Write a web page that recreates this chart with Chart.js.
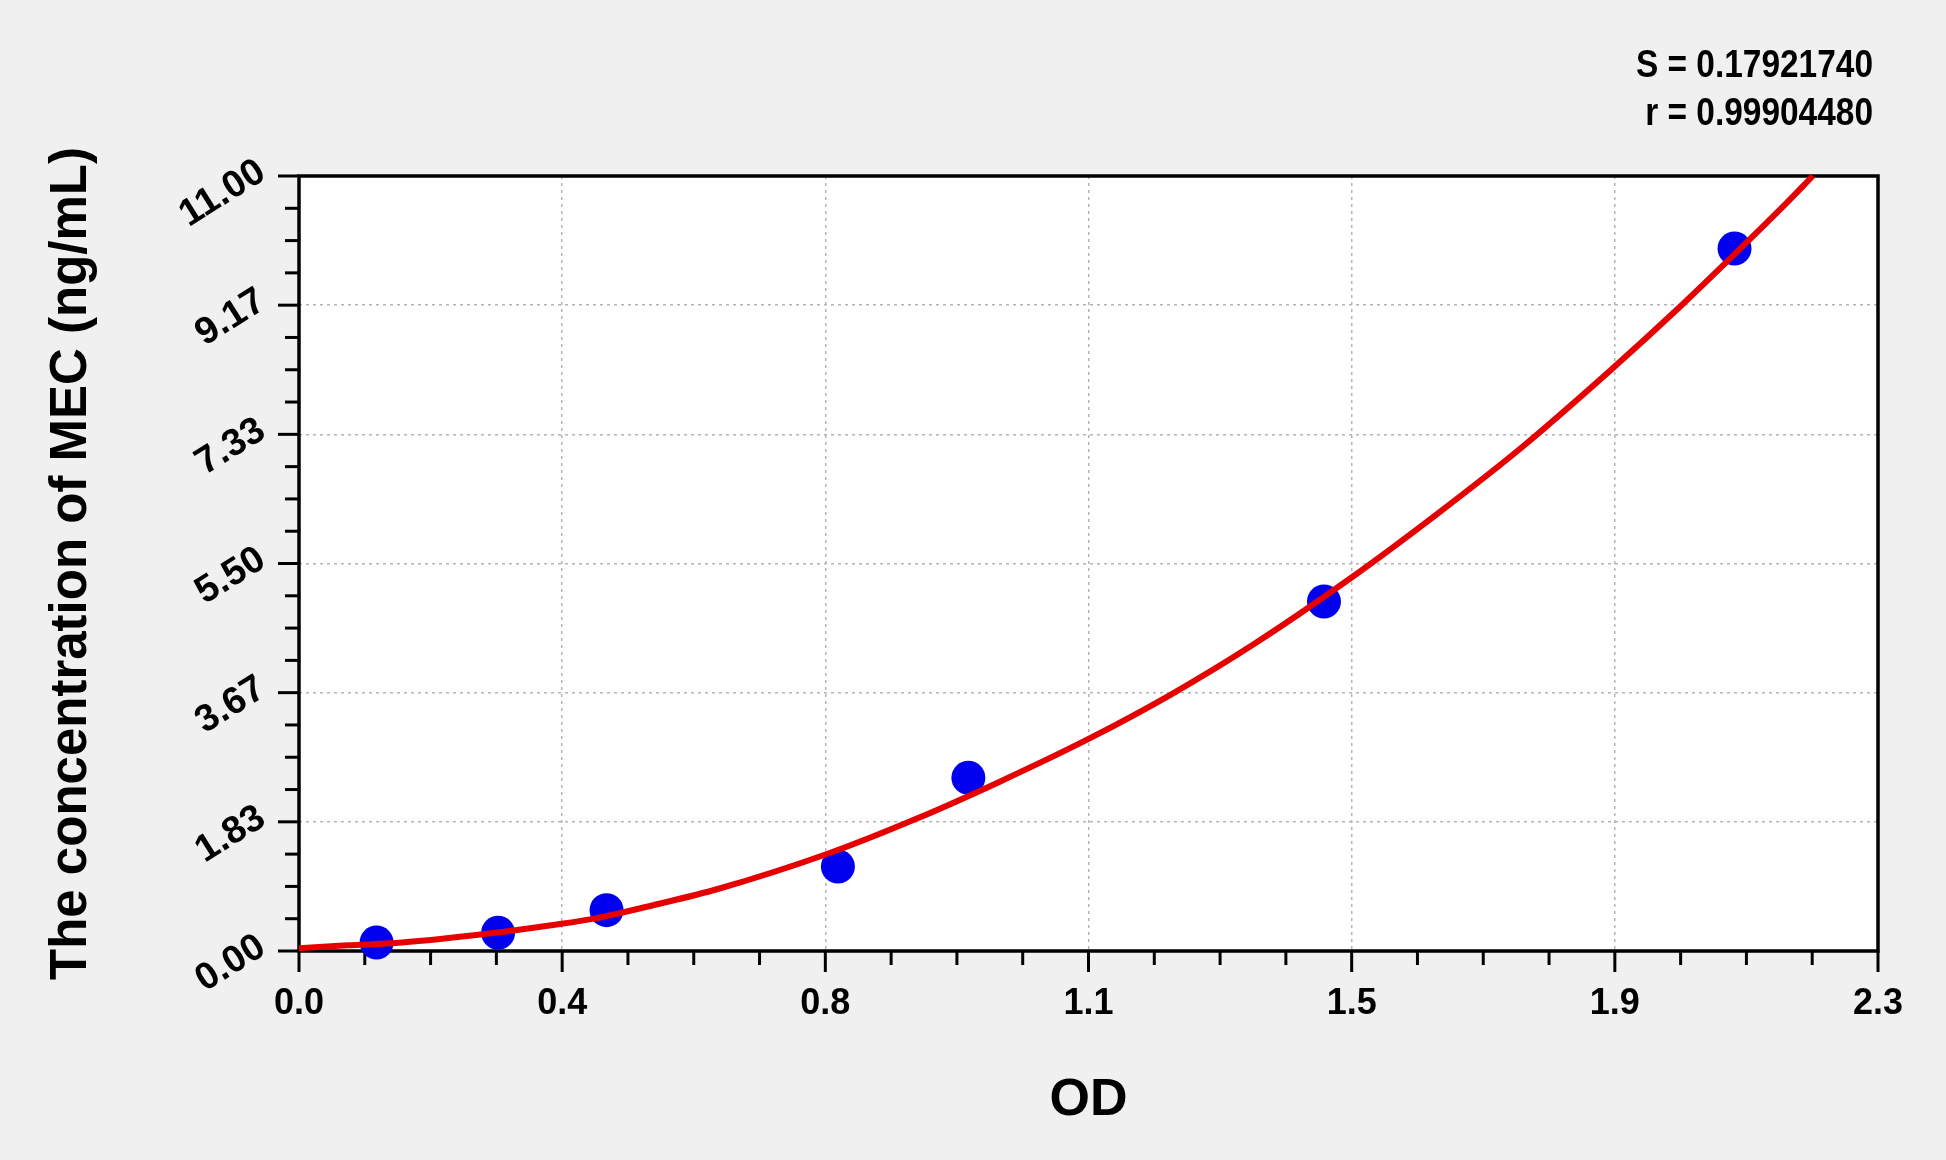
<!DOCTYPE html>
<html>
<head>
<meta charset="utf-8">
<title>MEC standard curve</title>
<script src="https://cdn.jsdelivr.net/npm/chart.js@4.4.1/dist/chart.umd.min.js"></script>
<style>
  html, body { margin: 0; padding: 0; background: #f0f0f0; }
  #wrap { width: 1946px; height: 1160px; }
</style>
</head>
<body>
<div id="wrap"><canvas id="curveChart" width="1946" height="1160"></canvas></div>
<script>
// standards (OD, concentration)
const odValues = [0.113, 0.290, 0.448, 0.785, 0.975, 1.493, 2.091];
const concValues = [0.12, 0.26, 0.58, 1.20, 2.46, 4.96, 9.97];

// fitted curve, sampled by eye along the red line
const fitOd = [0, 0.07, 0.15, 0.27, 0.37, 0.43, 0.52, 0.61, 0.77, 0.90, 1.02, 1.15, 1.27, 1.39, 1.53, 1.66, 1.78, 1.91, 2.01, 2.09, 2.16, 2.205];
const fitConc = [0.04, 0.08, 0.12, 0.24, 0.37, 0.46, 0.66, 0.88, 1.38, 1.88, 2.40, 3.01, 3.64, 4.35, 5.28, 6.22, 7.14, 8.24, 9.13, 9.88, 10.55, 11.00];

const xTickLabels = ['0.0', '0.4', '0.8', '1.1', '1.5', '1.9', '2.3'];
const yTickLabels = ['0.00', '1.83', '3.67', '5.50', '7.33', '9.17', '11.00'];
const statLines = ['S = 0.17921740', 'r = 0.99904480'];

const X_MAX = 2.3;
const Y_MAX = 11;
const FONT = "'Liberation Sans', Arial, sans-serif";

// background, frame, major/minor ticks, rotated y labels, S and r
const framePlugin = {
  id: 'frame',
  beforeDraw(chart) {
    const { ctx, chartArea: a } = chart;
    ctx.save();
    ctx.fillStyle = '#f0f0f0';
    ctx.fillRect(0, 0, chart.width, chart.height);
    ctx.fillStyle = '#ffffff';
    ctx.fillRect(a.left, a.top, a.right - a.left, a.bottom - a.top);
    ctx.restore();
  },
  beforeDatasetsDraw(chart) {
    const { ctx, chartArea: a, scales: { x, y } } = chart;
    ctx.save();
    ctx.strokeStyle = '#000';
    ctx.lineWidth = 3.5;
    ctx.strokeRect(a.left, a.top, a.right - a.left, a.bottom - a.top);

    ctx.lineWidth = 3;
    const steps = (xTickLabels.length - 1) * 4;
    for (let i = 0; i <= steps; i++) {
      const px = x.getPixelForValue(i * X_MAX / steps);
      const len = i % 4 === 0 ? 21 : 14;
      ctx.beginPath();
      ctx.moveTo(px, a.bottom);
      ctx.lineTo(px, a.bottom + len);
      ctx.stroke();
    }
    const ySteps = (yTickLabels.length - 1) * 4;
    for (let i = 0; i <= ySteps; i++) {
      const py = y.getPixelForValue(i * Y_MAX / ySteps);
      const len = i % 4 === 0 ? 21 : 14;
      ctx.beginPath();
      ctx.moveTo(a.left, py);
      ctx.lineTo(a.left - len, py);
      ctx.stroke();
    }

    ctx.fillStyle = '#000';
    ctx.font = 'bold 38px ' + FONT;
    ctx.textAlign = 'right';
    ctx.textBaseline = 'middle';
    yTickLabels.forEach((t, i) => {
      const py = y.getPixelForValue(i * Y_MAX / (yTickLabels.length - 1));
      ctx.save();
      ctx.translate(a.left - 37, py - 7);
      ctx.rotate(-32 * Math.PI / 180);
      ctx.fillText(t, 0, 0);
      ctx.restore();
    });

    ctx.textBaseline = 'alphabetic';
    ctx.font = 'bold 38px ' + FONT;
    statLines.forEach((t, i) => {
      ctx.save();
      ctx.translate(a.right - 5, 77 + i * 48);
      ctx.scale(0.88, 1);
      ctx.fillText(t, 0, 0);
      ctx.restore();
    });
    ctx.restore();
  }
};

new Chart(document.getElementById('curveChart'), {
  type: 'scatter',
  data: {
    datasets: [
      {
        label: 'fit',
        data: fitOd.map((v, i) => ({ x: v, y: fitConc[i] })),
        showLine: true,
        borderColor: '#e60000',
        borderWidth: 6,
        pointRadius: 0,
        cubicInterpolationMode: 'monotone',
        clip: false,
        order: 0
      },
      {
        label: 'standards',
        data: odValues.map((v, i) => ({ x: v, y: concValues[i] })),
        backgroundColor: '#0000ee',
        borderColor: '#0000ee',
        pointRadius: 17,
        pointBorderWidth: 0,
        clip: false,
        order: 1
      }
    ]
  },
  options: {
    responsive: false,
    animation: false,
    devicePixelRatio: 1,
    layout: { padding: { top: 176, right: 68, left: 0, bottom: 0 } },
    plugins: {
      legend: { display: false },
      tooltip: { enabled: false }
    },
    scales: {
      x: {
        type: 'linear',
        min: 0,
        max: X_MAX,
        afterBuildTicks(s) {
          s.ticks = xTickLabels.map((_, i) => ({ value: i * X_MAX / (xTickLabels.length - 1) }));
        },
        afterFit(s) { s.height = 209; },
        grid: { color: '#b4b4b4', lineWidth: 1.5, drawTicks: false },
        border: { display: false, dash: [3, 4] },
        ticks: {
          padding: 31,
          color: '#000',
          font: { size: 36, weight: 'bold', family: FONT },
          callback: (v, i) => xTickLabels[i]
        },
        title: {
          display: true,
          text: 'OD',
          color: '#000',
          font: { size: 52, weight: 'bold', family: FONT },
          padding: { bottom: 28 }
        }
      },
      y: {
        type: 'linear',
        min: 0,
        max: Y_MAX,
        afterBuildTicks(s) {
          s.ticks = yTickLabels.map((_, i) => ({ value: i * Y_MAX / (yTickLabels.length - 1) }));
        },
        afterFit(s) { s.width = 299; },
        grid: { color: '#b4b4b4', lineWidth: 1.5, drawTicks: false },
        border: { display: false, dash: [3, 4] },
        ticks: { display: false },
        title: {
          display: true,
          text: 'The concentration of MEC (ng/mL)',
          color: '#000',
          font: { size: 51, weight: 'bold', family: FONT },
          padding: { top: 41 }
        }
      }
    }
  },
  plugins: [framePlugin]
});
</script>
</body>
</html>
